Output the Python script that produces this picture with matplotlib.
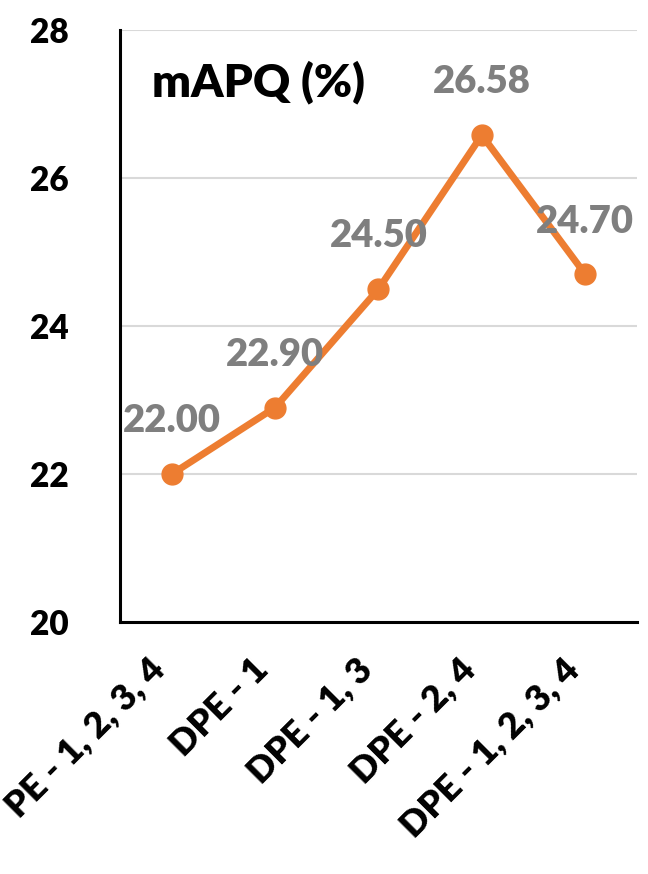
import matplotlib
matplotlib.use('Agg')
import matplotlib.pyplot as plt

# Data
categories = ['PE - 1, 2, 3, 4', 'DPE - 1', 'DPE - 1, 3', 'DPE - 2, 4', 'DPE - 1, 2, 3, 4']
mapq = [22.00, 22.90, 24.50, 26.58, 24.70]
y_ticks = [20, 22, 24, 26, 28]

LINE_COLOR = '#ED7D31'
LABEL_COLOR = '#7F7F7F'
GRID_COLOR = '#D9D9D9'
WEIGHT = 'heavy'

plt.rcParams['font.family'] = ['Lato', 'DejaVu Sans']
plt.rcParams['font.weight'] = WEIGHT

fig = plt.figure(figsize=(6.48, 8.74), dpi=100)
ax = fig.add_axes([0.185, 0.288, 0.798, 0.6777])

x = list(range(len(categories)))
ax.plot(x, mapq, color=LINE_COLOR, linewidth=5, marker='o', markersize=15,
        solid_capstyle='round', zorder=3)

for xi, v in zip(x, mapq):
    ax.annotate(f'{v:.2f}', (xi, v), xytext=(0, 38), textcoords='offset points',
                ha='center', va='center', fontsize=27.5, fontweight=WEIGHT,
                color=LABEL_COLOR, zorder=4)

ax.set_xlim(-0.5, len(categories) - 0.5)
ax.set_ylim(20, 28)
ax.set_yticks(y_ticks)
ax.set_yticklabels([str(t) for t in y_ticks], fontsize=24, fontweight=WEIGHT)
ax.set_xticks(x)
ax.set_xticklabels(categories, rotation=45, ha='right', va='top',
                   fontsize=26, fontweight=WEIGHT)
ax.tick_params(axis='y', length=0, pad=37)
ax.tick_params(axis='x', length=0, pad=22)

ax.yaxis.grid(True, color=GRID_COLOR, linewidth=1.5, zorder=0)
ax.set_axisbelow(True)
for s in ['top', 'right']:
    ax.spines[s].set_visible(False)
for s in ['left', 'bottom']:
    ax.spines[s].set_linewidth(2.2)
    ax.spines[s].set_color('black')

ax.text(0.062, 0.912, 'mAPQ (%)', transform=ax.transAxes, ha='left', va='center',
        fontsize=33, fontweight=WEIGHT, color='black')

fig.savefig('out.png', dpi=100)
